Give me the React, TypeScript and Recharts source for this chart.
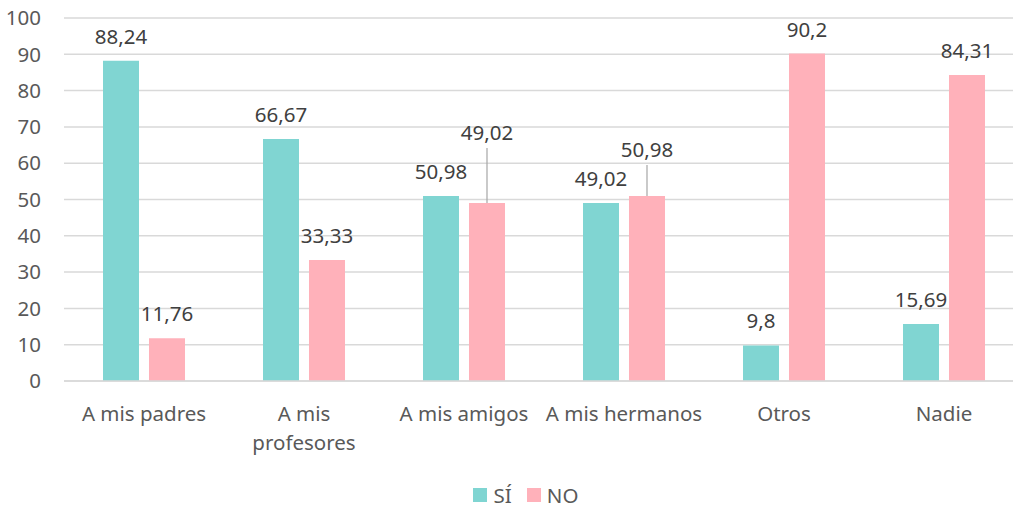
import React from 'react';
import { BarChart, Bar, XAxis, YAxis, CartesianGrid, Legend, LabelList } from 'recharts';

const categories = ['A mis padres', 'A mis profesores', 'A mis amigos', 'A mis hermanos', 'Otros', 'Nadie'];
const siValues = [88.24, 66.67, 50.98, 49.02, 9.8, 15.69];
const noValues = [11.76, 33.33, 49.02, 50.98, 90.2, 84.31];
const yTicks = [0, 10, 20, 30, 40, 50, 60, 70, 80, 90, 100];

const SI_COLOR = '#80D5D2';
const NO_COLOR = '#FFB1BA';
const TEXT = '#595959';
const FONT = '"Noto Sans", sans-serif';
const FS = 20.5;

// extra lift for labels that sit on a leader line (NO series)
const noLift = [0, 0, 46, 22, 0, 0];

const data = categories.map((name, i) => ({ name, si: siValues[i], no: noValues[i] }));

const fmt = (v: number) => String(v).replace('.', ',');

// greedy word wrap, max chars per line
const wrap = (s: string, max = 14) => {
  const lines: string[] = [];
  let cur = '';
  s.split(' ').forEach((w) => {
    const next = cur ? cur + ' ' + w : w;
    if (next.length > max && cur) {
      lines.push(cur);
      cur = w;
    } else cur = next;
  });
  if (cur) lines.push(cur);
  return lines;
};

const makeLabel = (lift: number[]) => (props: any) => {
  const { x, y, width, value, index } = props;
  const cx = x + width / 2;
  const extra = lift[index] || 0;
  const cy = y - 25 - extra;
  return (
    <g>
      {extra > 0 && (
        <line x1={cx} y1={cy + 16} x2={cx} y2={y} stroke="#A6A6A6" strokeWidth={1.2} />
      )}
      <text x={cx} y={cy} textAnchor="middle" dominantBaseline="central" fill="#404040" fontSize={FS} fontFamily={FONT}>
        {fmt(value)}
      </text>
    </g>
  );
};

const CategoryTick = (props: any) => {
  const { x, y, payload } = props;
  const lines = wrap(payload.value);
  return (
    <text x={x} y={y + 24} textAnchor="middle" fill={TEXT} fontSize={FS} fontFamily={FONT}>
      {lines.map((l, i) => (
        <tspan key={i} x={x} y={y + 24 + i * 29} dominantBaseline="central">
          {l}
        </tspan>
      ))}
    </text>
  );
};

const LegendContent = () => (
  <div style={{ display: 'flex', justifyContent: 'center', alignItems: 'center', fontFamily: FONT, fontSize: FS, color: TEXT, height: 26, lineHeight: '26px', paddingLeft: 27 }}>
    <span style={{ display: 'inline-block', width: 14, height: 14, background: SI_COLOR, marginRight: 7 }} />
    <span style={{ marginRight: 15 }}>SÍ</span>
    <span style={{ display: 'inline-block', width: 14, height: 14, background: NO_COLOR, marginRight: 6 }} />
    <span>NO</span>
  </div>
);

export default function App() {
  return (
    <div style={{ position: 'fixed', top: 0, left: 0, width: 1013, height: 508, overflow: 'hidden', background: '#fff' }}>
      <BarChart
        width={1030}
        height={508}
        data={data}
        margin={{ top: 18, right: 6, left: 0, bottom: 0 }}
        barCategoryGap={39}
        barGap={10}
      >
        <CartesianGrid vertical={false} stroke="#D9D9D9" strokeWidth={1.5} />
        <XAxis
          dataKey="name"
          axisLine={{ stroke: '#D9D9D9', strokeWidth: 1.5 }}
          tickLine={false}
          height={101}
          interval={0}
          tick={<CategoryTick />}
        />
        <YAxis
          domain={[0, 100]}
          ticks={yTicks}
          axisLine={false}
          tickLine={false}
          tickSize={0}
          tickMargin={23}
          width={64}
          tick={{ fill: TEXT, fontSize: FS, fontFamily: FONT }}
        />
        <Legend verticalAlign="bottom" content={<LegendContent />} />
        <Bar dataKey="si" fill={SI_COLOR} barSize={36} isAnimationActive={false}>
          <LabelList dataKey="si" content={makeLabel([0, 0, 0, 0, 0, 0])} />
        </Bar>
        <Bar dataKey="no" fill={NO_COLOR} barSize={36} isAnimationActive={false}>
          <LabelList dataKey="no" content={makeLabel(noLift)} />
        </Bar>
      </BarChart>
    </div>
  );
}
